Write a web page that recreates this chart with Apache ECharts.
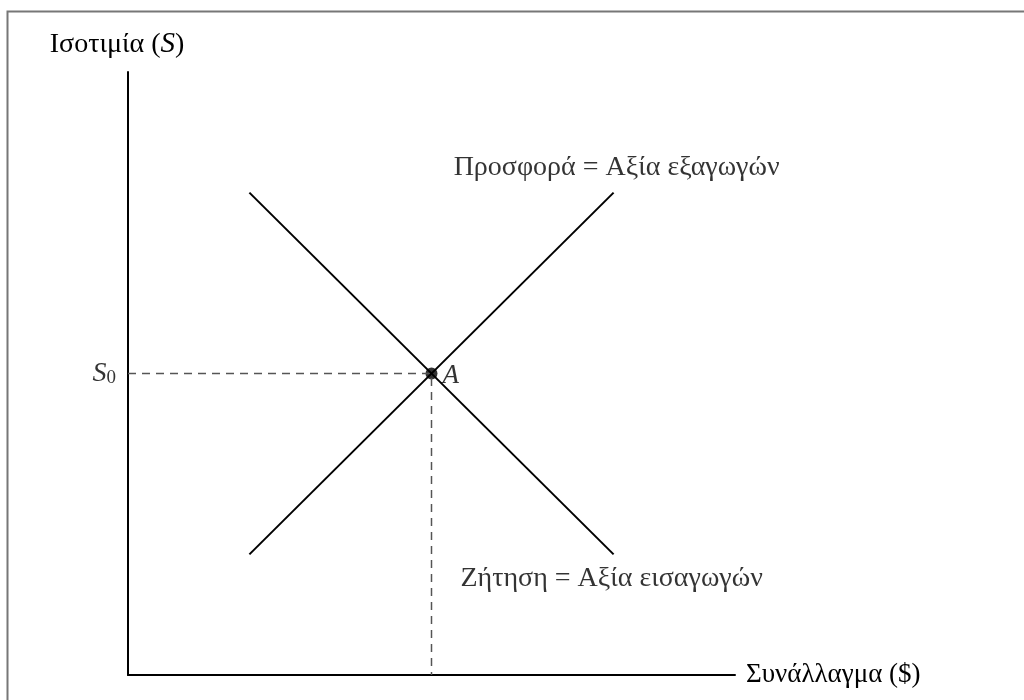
<!DOCTYPE html>
<html>
<head>
<meta charset="utf-8">
<script src="https://cdn.jsdelivr.net/npm/echarts@6/dist/echarts.min.js"></script>
<style>
html,body{margin:0;padding:0;background:#fff;}
#chart{width:1024px;height:700px;}
</style>
</head>
<body>
<div id="chart"></div>
<script>
// Data
const supplyLine = [[20, 20], [80, 80]];
const demandLine = [[20, 80], [80, 20]];
const equilibrium = [50, 50];
const axisRange = [0, 100];
const xAxisName = 'Συνάλλαγμα ($)';
const yAxisNameText = 'Ισοτιμία (';
const supplyLabel = 'Προσφορά = Αξία εξαγωγών';
const demandLabel = 'Ζήτηση = Αξία εισαγωγών';
const pointLabel = 'A';
const priceLabel = ['S', '0'];

const FONT = '"Liberation Serif", "DejaVu Serif", serif';

const chart = echarts.init(document.getElementById('chart'), null, {renderer: 'canvas'});
const hiddenAxis = {
  axisTick: {show: false},
  axisLabel: {show: false},
  splitLine: {show: false},
  axisLine: {show: true, lineStyle: {color: '#000', width: 2}}
};
chart.setOption({
  animation: false,
  backgroundColor: '#fff',
  graphic: [{
    type: 'rect', left: 5, top: 9,
    shape: {x: 0, y: 0, width: 1100, height: 800},
    style: {fill: 'none', stroke: '#777', lineWidth: 2}, silent: true
  }],
  grid: {left: 128, right: 289, top: 72, bottom: 25},
  xAxis: Object.assign({
    type: 'value', min: axisRange[0], max: axisRange[1],
    name: xAxisName, nameLocation: 'end', nameGap: 11,
    nameTextStyle: {fontFamily: FONT, fontSize: 27, color: '#000', verticalAlign: 'middle'}
  }, hiddenAxis),
  yAxis: Object.assign({
    type: 'value', min: axisRange[0], max: axisRange[1],
    name: '{n|' + yAxisNameText + '}{i|S}{n|)}', nameLocation: 'end', nameGap: 13,
    nameTextStyle: {
      padding: [0, 22, 0, 0],
      rich: {
        n: {fontFamily: FONT, fontSize: 28, color: '#000'},
        i: {fontFamily: FONT, fontSize: 29, color: '#000', fontStyle: 'italic'}
      }
    }
  }, hiddenAxis),
  series: [
    {
      type: 'line', data: [[axisRange[0], equilibrium[1]], equilibrium, [equilibrium[0], axisRange[0]]],
      symbol: 'none', silent: true,
      lineStyle: {color: '#555', width: 1.5, type: [8, 6]}
    },
    {
      type: 'line', data: supplyLine, symbol: 'none',
      lineStyle: {color: '#000', width: 2}
    },
    {
      type: 'line', data: demandLine, symbol: 'none',
      lineStyle: {color: '#000', width: 2}
    },
    {
      type: 'scatter', symbolSize: 0,
      data: [
        {value: supplyLine[1], label: {show: true, position: 'top', distance: 11, offset: [3, 0], formatter: supplyLabel}},
        {value: demandLine[1], label: {show: true, position: 'bottom', distance: 10, offset: [-2, 0], formatter: demandLabel}}
      ],
      label: {fontFamily: FONT, fontSize: 28, color: '#000'}
    },
    {
      type: 'scatter', symbol: 'circle', symbolSize: 12,
      itemStyle: {color: '#000'},
      data: [equilibrium],
      label: {show: true, position: 'right', distance: 5, offset: [0, 2], formatter: pointLabel,
        fontFamily: FONT, fontSize: 27, fontStyle: 'italic', color: '#000'}
    },
    {
      type: 'scatter', symbolSize: 0,
      data: [[axisRange[0], equilibrium[1]]],
      label: {show: true, position: 'left', distance: 12,
        formatter: '{i|' + priceLabel[0] + '}{s|' + priceLabel[1] + '}',
        rich: {
          i: {fontFamily: FONT, fontSize: 28, fontStyle: 'italic', color: '#000'},
          s: {fontFamily: FONT, fontSize: 19, color: '#000', verticalAlign: 'bottom', padding: [9, 0, 0, 0]}
        }
      }
    }
  ]
});
</script>
</body>
</html>
